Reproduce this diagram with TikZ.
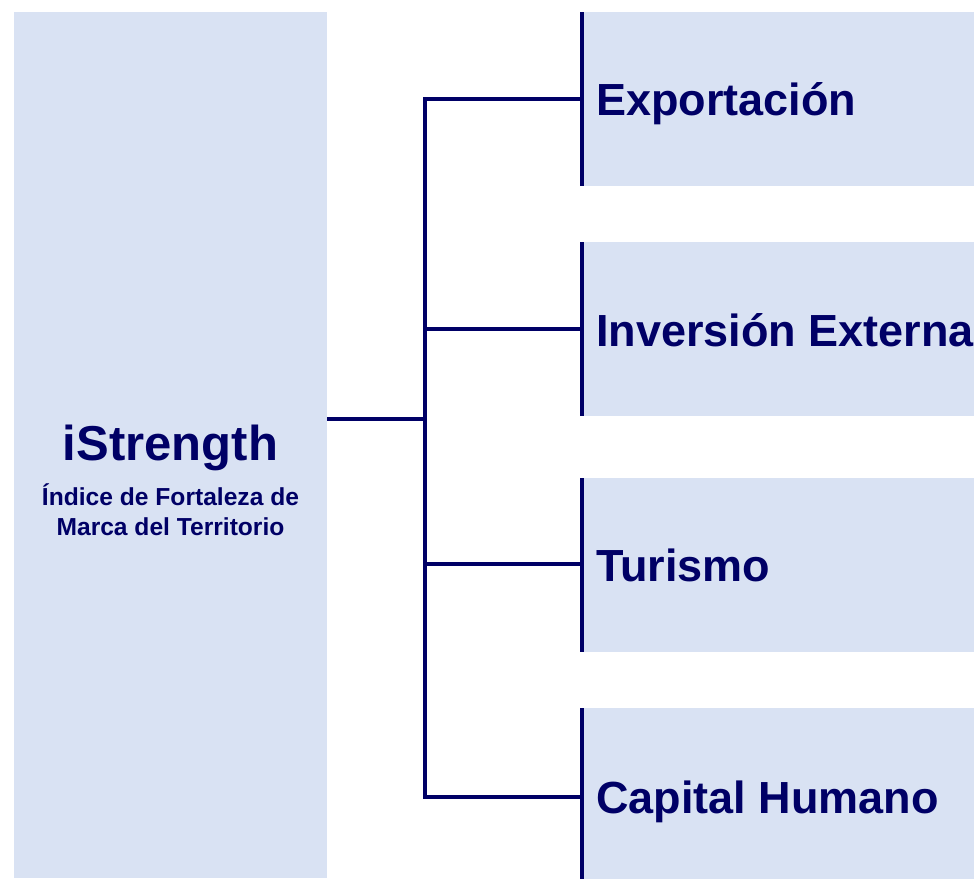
\documentclass[tikz,border=0pt]{standalone}
\usepackage{fontspec}
\setmainfont{Liberation Sans}
\definecolor{navy}{RGB}{0,0,102}
\definecolor{boxfill}{RGB}{217,226,243}
\begin{document}
\begin{tikzpicture}[x=1pt,y=-1pt,
  boxshape/.style={fill=boxfill,draw=none,inner sep=0pt,anchor=north west},
  subbox/.style={boxshape,minimum width=420pt,minimum height=174pt},
  conn/.style={draw=navy,line width=3.5pt},
  border/.style={draw=navy,line width=4pt},
  lbl/.style={text=navy,font=\fontsize{45}{54}\selectfont\bfseries,inner sep=0pt,anchor=base west},
  title/.style={text=navy,font=\fontsize{49}{58}\selectfont\bfseries,inner sep=0pt,anchor=base},
  sub/.style={text=navy,font=\fontsize{24.6}{30}\selectfont\bfseries,inner sep=0pt,anchor=base}]
\useasboundingbox (0,0) rectangle (974,878);
% left box
\node[boxshape,minimum width=313pt,minimum height=866pt] (root) at (14,12) {};
\node[title] (rt) at (170.5,460) {iStrength};
\node[sub] (rs1) at (170.5,505) {Índice de Fortaleza de};
\node[sub] (rs2) at (170.5,535) {Marca del Territorio};
% right boxes
\node[subbox] (b1) at (582,12) {};
\node[subbox] (b2) at (582,242) {};
\node[subbox] (b3) at (582,478) {};
\node[subbox] (b4) at (582,708) {};
% labels
\node[lbl] (t1) at (596,115.5) {Exportación};
\node[lbl] (t2) at (596,346) {Inversión Externa};
\node[lbl] (t3) at (596,581.5) {Turismo};
\node[lbl] (t4) at (596,813) {Capital Humano};
% junction coordinates
\coordinate (j) at (425,419);
\coordinate (j1) at (425,99);
\coordinate (j2) at (425,329);
\coordinate (j3) at (425,564);
\coordinate (j4) at (425,797);
% connectors
\draw[conn] (root.east |- j) -- (j);
\draw[conn,line join=miter] (b1.west |- j1) -- (j1) -- (j4) -- (b4.west |- j4);
\draw[conn] (j2) -- (b2.west |- j2);
\draw[conn] (j3) -- (b3.west |- j3);
% box borders
\draw[border] (b1.north west) -- (b1.south west);
\draw[border] (b2.north west) -- (b2.south west);
\draw[border] (b3.north west) -- (b3.south west);
\draw[border] (b4.north west) -- (b4.south west);
\end{tikzpicture}
\end{document}
